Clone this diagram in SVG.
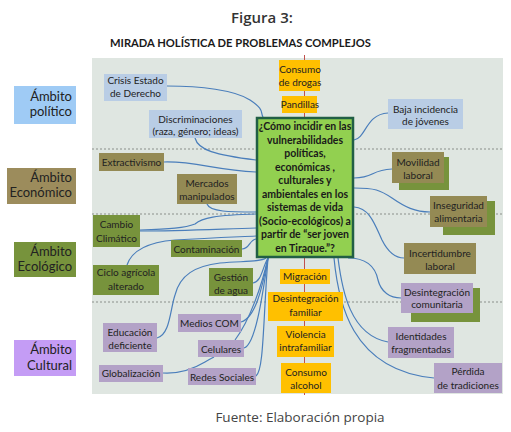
<svg xmlns="http://www.w3.org/2000/svg" width="511" height="432" viewBox="0 0 511 432">
<style>
  .t{font-family:Lato,"Liberation Sans",sans-serif;font-size:10px;fill:#222;text-anchor:middle}
  .c{font-family:Lato,"Liberation Sans",sans-serif;font-size:10.5px;font-weight:bold;fill:#1a1a1a;text-anchor:middle}
  .amb{font-family:Lato,"Liberation Sans",sans-serif;font-size:13px;fill:#222;text-anchor:end}
  .blue{fill:#b9cde5}
  .olive{fill:#948a54}
  .green{fill:#77933c}
  .purple{fill:#b3a2c7}
  .orange{fill:#ffc000}
  .sep{stroke:#8a8f8a;stroke-width:1;stroke-dasharray:2,2}
  .ln{fill:none;stroke:#4a7ebb;stroke-width:1.2}
</style>
<rect width="511" height="432" fill="#ffffff"/>
<text x="262" y="23" style="font-family:'Open Sans','Noto Sans',sans-serif;font-size:15px;font-weight:600;fill:#333;text-anchor:middle">Figura 3:</text>
<text x="110" y="47" textLength="261" lengthAdjust="spacingAndGlyphs" style="font-family:Lato,'Liberation Sans',sans-serif;font-size:11px;font-weight:bold;fill:#1a1a1a">MIRADA HOLÍSTICA DE PROBLEMAS COMPLEJOS</text>

<g id="ambitos">
  <g id="amb-politico"><rect x="14" y="86" width="62" height="38" fill="#9fcbf5"/><text class="amb" x="72" y="101">Ámbito</text><text class="amb" x="72" y="116">político</text></g>
  <g id="amb-economico"><rect x="7" y="168" width="69" height="36" fill="#9c8c5c"/><text class="amb" x="72" y="182">Ámbito</text><text class="amb" x="72" y="197">Económico</text></g>
  <g id="amb-ecologico"><rect x="14" y="242" width="62" height="35" fill="#77933c"/><text class="amb" x="72" y="256">Ámbito</text><text class="amb" x="72" y="271">Ecológico</text></g>
  <g id="amb-cultural"><rect x="14" y="340" width="62" height="36" fill="#c49cf5"/><text class="amb" x="72" y="354">Ámbito</text><text class="amb" x="72" y="370">Cultural</text></g>
</g>

<rect id="panel" x="92" y="58" width="411" height="336" fill="#dfe6e1"/>
<line class="sep" x1="92" y1="149" x2="503" y2="149"/>
<line class="sep" x1="92" y1="214" x2="503" y2="214"/>
<line class="sep" x1="92" y1="302" x2="503" y2="302"/>
<line x1="304.5" y1="55" x2="304.5" y2="395" stroke="#c0504d" stroke-width="1"/>

<g id="connectors">
  <path class="ln" d="M167,86 C200,86 235,90 250,100 S260,112 263,117"/>
  <path class="ln" d="M195,138 C198,150 215,155 256,160"/>
  <path class="ln" d="M164,162 C195,161 215,170 256,172"/>
  <path class="ln" d="M207,204 C210,212 230,212 256,212"/>
  <path class="ln" d="M140,231 C180,231 220,229 256,228"/>
  <path class="ln" d="M140,230 C170,229 185,228 195,224 C202,218 215,215 256,214"/>
  <path class="ln" d="M127,265 C132,250 150,242 175,240 C210,238 235,237 256,236"/>
  <path class="ln" d="M242,249 C250,249 249,240 256,239"/>
  <path class="ln" d="M253,283 C262,281 262,268 268,258"/>
  <path class="ln" d="M157,338 C170,335 170,310 175,295 C180,275 195,266 220,263 C245,261 260,262 266,258"/>
  <path class="ln" d="M241,322 C255,318 262,290 268,258"/>
  <path class="ln" d="M235,340 C250,320 262,285 268,258"/>
  <path class="ln" d="M244,348 C255,345 262,300 268,258"/>
  <path class="ln" d="M256,376 C264,370 263,320 268,258"/>
  <path class="ln" d="M163,373 C180,374 195,368 205,362 C210,359 212,358 214,357"/>
  <path class="ln" d="M354,140 C366,138 366,114 388,113"/>
  <path class="ln" d="M354,178 C375,178 370,170 392,169"/>
  <path class="ln" d="M354,188 C375,188 380,190 392,198 C405,207 415,212 430,212"/>
  <path class="ln" d="M354,207 C370,208 375,225 382,240 C388,252 395,258 404,258"/>
  <path class="ln" d="M348,258 C365,258 375,265 378,280 C381,292 390,298 401,298"/>
  <path class="ln" d="M338,258 C342,290 350,335 388,342"/>
  <path class="ln" d="M334,258 C338,300 350,370 434,378"/>
</g>

<g id="center">
  <rect x="257" y="118" width="96" height="139" fill="#92d050" stroke="#215f45" stroke-width="2.5"/>
  <text class="c" x="305" y="130">¿Cómo incidir en las</text>
  <text class="c" x="305" y="143.5">vulnerabilidades</text>
  <text class="c" x="305" y="157">políticas,</text>
  <text class="c" x="305" y="170.5">económicas ,</text>
  <text class="c" x="305" y="184">culturales y</text>
  <text class="c" x="305" y="197.5">ambientales en los</text>
  <text class="c" x="305" y="211">sistemas de vida</text>
  <text class="c" x="305" y="224.5">(Socio-ecológicos) a</text>
  <text class="c" x="305" y="238">partir de “ser joven</text>
  <text class="c" x="305" y="251.5">en Tiraque.”?</text>
</g>

<g id="n-consumo-drogas"><rect class="orange" x="279" y="60" width="41" height="31"/><text class="t" x="300" y="73">Consumo</text><text class="t" x="300" y="86">de drogas</text></g>
<g id="n-pandillas"><rect class="orange" x="282" y="96" width="35" height="17"/><text class="t" x="300" y="108">Pandillas</text></g>
<g id="n-migracion"><rect class="orange" x="280" y="269" width="50" height="15"/><text class="t" x="305" y="280">Migración</text></g>
<g id="n-desint-familiar"><rect class="orange" x="268" y="292" width="75" height="29"/><text class="t" x="305.5" y="302">Desintegración</text><text class="t" x="305.5" y="316">familiar</text></g>
<g id="n-violencia"><rect class="orange" x="277" y="326" width="57" height="31"/><text class="t" x="305.5" y="338">Violencia</text><text class="t" x="305.5" y="351">intrafamiliar</text></g>
<g id="n-consumo-alcohol"><rect class="orange" x="281" y="363" width="50" height="30"/><text class="t" x="306" y="376">Consumo</text><text class="t" x="306" y="389">alcohol</text></g>

<g id="n-crisis"><rect class="blue" x="104" y="74" width="63" height="27"/><text class="t" x="135.5" y="84">Crisis Estado</text><text class="t" x="135.5" y="97">de Derecho</text></g>
<g id="n-discrim"><rect class="blue" x="149" y="110" width="93" height="28"/><text class="t" x="195.5" y="123">Discriminaciones</text><text class="t" x="195.5" y="135">(raza, género; ideas)</text></g>
<g id="n-baja"><rect class="blue" x="388" y="99" width="75" height="30"/><text class="t" x="425.5" y="113">Baja incidencia</text><text class="t" x="425.5" y="125">de jóvenes</text></g>

<g id="n-extractivismo"><rect class="olive" x="99" y="153" width="65" height="18"/><text class="t" x="131.5" y="165.5">Extractivismo</text></g>
<g id="n-mercados"><rect class="olive" x="177" y="174" width="60" height="30"/><text class="t" x="207" y="187">Mercados</text><text class="t" x="207" y="200">manipulados</text></g>
<g id="n-movilidad"><rect class="green" x="399" y="157" width="50" height="33"/><rect class="olive" x="392" y="152" width="52" height="31"/><text class="t" x="418" y="166">Movilidad</text><text class="t" x="418" y="179">laboral</text></g>
<g id="n-inseguridad"><rect class="green" x="443" y="201" width="52" height="34"/><rect class="olive" x="430" y="196" width="57" height="31"/><text class="t" x="458.5" y="209">Inseguridad</text><text class="t" x="458.5" y="222">alimentaria</text></g>
<g id="n-incertidumbre"><rect class="olive" x="404" y="243" width="72" height="31"/><text class="t" x="440" y="257">Incertidumbre</text><text class="t" x="440" y="270">laboral</text></g>

<g id="n-cambio"><rect class="green" x="93" y="215" width="47" height="32"/><text class="t" x="116.5" y="228">Cambio</text><text class="t" x="116.5" y="242">Climático</text></g>
<g id="n-contaminacion"><rect class="green" x="171" y="240" width="71" height="17"/><text class="t" x="206.5" y="252.5">Contaminación</text></g>
<g id="n-ciclo"><rect class="green" x="93" y="265" width="66" height="30"/><text class="t" x="126" y="276">Ciclo agrícola</text><text class="t" x="126" y="290">alterado</text></g>
<g id="n-gestion"><rect class="green" x="209" y="268" width="44" height="28"/><text class="t" x="231" y="281">Gestión</text><text class="t" x="231" y="294">de agua</text></g>

<g id="n-desint-comunitaria"><rect class="green" x="411" y="288" width="69" height="34"/><rect class="purple" x="401" y="283" width="72" height="30"/><text class="t" x="437" y="296">Desintegración</text><text class="t" x="437" y="308">comunitaria</text></g>
<g id="n-identidades"><rect class="purple" x="388" y="327" width="66" height="31"/><text class="t" x="421" y="340">Identidades</text><text class="t" x="421" y="353">fragmentadas</text></g>
<g id="n-perdida"><rect class="purple" x="434" y="363" width="68" height="30"/><text class="t" x="468" y="375">Pérdida</text><text class="t" x="468" y="389">de tradiciones</text></g>
<g id="n-educacion"><rect class="purple" x="103" y="323" width="54" height="29"/><text class="t" x="130" y="336">Educación</text><text class="t" x="130" y="349">deficiente</text></g>
<g id="n-medios"><rect class="purple" x="178" y="314" width="63" height="18"/><text class="t" x="209.5" y="327">Medios COM</text></g>
<g id="n-celulares"><rect class="purple" x="198" y="340" width="46" height="17"/><text class="t" x="221" y="352.5">Celulares</text></g>
<g id="n-globalizacion"><rect class="purple" x="99" y="365" width="64" height="17"/><text class="t" x="131" y="377">Globalización</text></g>
<g id="n-redes"><rect class="purple" x="188" y="368" width="68" height="17"/><text class="t" x="222" y="380.5">Redes Sociales</text></g>

<text x="300" y="422" style="font-family:'Open Sans','Noto Sans',sans-serif;font-size:13.5px;fill:#444;text-anchor:middle">Fuente: Elaboración propia</text>
</svg>
